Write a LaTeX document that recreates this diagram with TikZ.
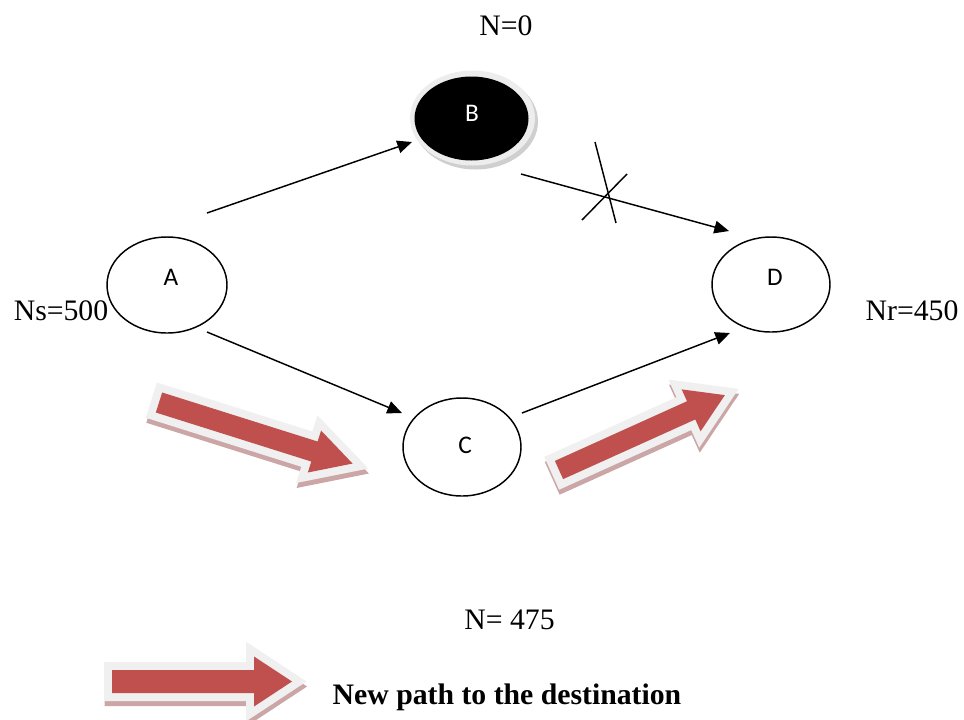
\documentclass[tikz,border=0pt]{standalone}
\usepackage{fontspec}
\setmainfont{Liberation Serif}
\newfontfamily\lblfont{Carlito}
\usetikzlibrary{arrows.meta,shapes.geometric}
\definecolor{arrred}{HTML}{C0504D}
\definecolor{arrrim}{HTML}{F0F0F0}
\definecolor{arrshadow}{RGB}{204,166,166}
\definecolor{brim}{HTML}{EDEDED}
\definecolor{bshadow}{HTML}{CFCFCF}
\tikzset{
  ell/.style={ellipse, draw=black, line width=1.1pt, fill=white, inner sep=0pt},
  lbl/.style={font=\lblfont\fontsize{19}{22}\selectfont, inner sep=0pt},
  txt/.style={font=\fontsize{22.3}{27}\selectfont, inner sep=0pt, anchor=base},
  btxt/.style={font=\bfseries\fontsize{22.3}{27}\selectfont, inner sep=0pt, anchor=base},
  conn/.style={line width=1.1pt, -{Triangle[length=11pt,width=9.5pt]}},
  crossln/.style={line width=1.1pt},
  arrshade/.style={fill=arrshadow, draw=arrshadow, line width=12pt, line join=miter},
  arrborder/.style={fill=arrrim, draw=arrrim, line width=12pt, line join=miter},
  arrbody/.style={fill=arrred},
}
% #1 length; #2 half shaft; #3 half head; #4 head length
\newcommand{\arrpoly}[5]{(0,-#2) -- ({#1-#4},-#2) -- ({#1-#4},-#3) -- (#1,0) -- ({#1-#4},#3) -- ({#1-#4},#2) -- (0,#2) -- cycle}
\newcommand{\redblockarrow}[7]{%
  \begin{scope}[shift={(0.5,5)}]
    \begin{scope}[shift={(#1,#2)},rotate=#3]
      \path[arrshade] \arrpoly{#4}{#5}{#6}{#7}{};
    \end{scope}
  \end{scope}
  \begin{scope}[shift={(#1,#2)},rotate=#3]
    \path[arrborder] \arrpoly{#4}{#5}{#6}{#7}{};
    \path[arrbody] \arrpoly{#4}{#5}{#6}{#7}{};
  \end{scope}}
\begin{document}
\begin{tikzpicture}[x=0.75pt,y=-0.75pt]
\useasboundingbox (0,0) rectangle (964,719);

% red block arrows
\redblockarrow{159}{402.5}{-17.5}{203}{10.5}{22}{40}
\redblockarrow{559}{470}{24.3}{182}{10}{23}{37}
\redblockarrow{112}{681.5}{0}{180}{11.5}{25}{38}

% node B (black with rim and shadow)
\fill[bshadow] (475.5,121.5) ellipse [x radius=62.5, y radius=48];
\fill[brim] (472.5,118) ellipse [x radius=62.5, y radius=47.5];
\node[ellipse, fill=black, minimum width=114*0.75pt, minimum height=84*0.75pt, inner sep=0pt] (B) at (471.5,118.5) {};
\node[lbl, text=white] (Bl) at (472,113) {B};

% plain nodes
\node[ell, minimum width=120*0.75pt, minimum height=96*0.75pt] (A) at (167,285) {};
\node[lbl] (Al) at (171,277) {A};
\node[ell, minimum width=118*0.75pt, minimum height=98*0.75pt] (C) at (462,447) {};
\node[lbl] (Cl) at (465,445) {C};
\node[ell, minimum width=118*0.75pt, minimum height=95*0.75pt] (D) at (771,284.5) {};
\node[lbl] (Dl) at (775,277) {D};

% connector end points
\coordinate (ab1) at (207,213);  \coordinate (ab2) at (412,142);
\coordinate (bd1) at (521,174);  \coordinate (bd2) at (729,231);
\coordinate (ac1) at (207,332);  \coordinate (ac2) at (402,413);
\coordinate (cd1) at (522,413);  \coordinate (cd2) at (730,333);
\draw[conn] (ab1) -- (ab2);
\draw[conn] (bd1) -- (bd2);
\draw[conn] (ac1) -- (ac2);
\draw[conn] (cd1) -- (cd2);

% cross on B->D
\coordinate (x1a) at (595,142); \coordinate (x1b) at (616,223);
\coordinate (x2a) at (582,220); \coordinate (x2b) at (627,174);
\draw[crossln] (x1a) -- (x1b);
\draw[crossln] (x2a) -- (x2b);

% texts
\node[txt] (n0) at (506,35) {N=0};
\node[txt] (ns) at (61,320) {Ns=500};
\node[txt] (nr) at (912,320) {Nr=450};
\node[txt] (n475) at (509.5,629) {N= 475};
\node[btxt] (legend) at (507,704) {New path to the destination};
\end{tikzpicture}
\end{document}
